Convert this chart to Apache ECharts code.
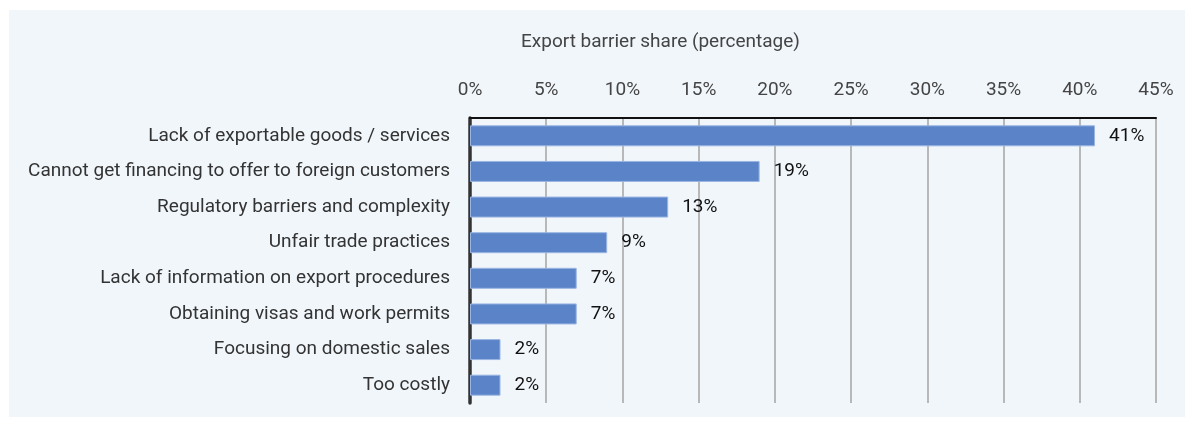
<!DOCTYPE html>
<html>
<head>
<meta charset="utf-8">
<script src="https://cdn.jsdelivr.net/npm/echarts@6/dist/echarts.min.js"></script>
<style>
  html, body { margin: 0; padding: 0; background: #ffffff; }
  #main { width: 1192px; height: 425px; }
</style>
</head>
<body>
<div id="main"></div>
<script>
// categories, top to bottom
var categories = [
  'Lack of exportable goods / services',
  'Cannot get financing to offer to foreign customers',
  'Regulatory barriers and complexity',
  'Unfair trade practices',
  'Lack of information on export procedures',
  'Obtaining visas and work permits',
  'Focusing on domestic sales',
  'Too costly'
];
var shares = [41, 19, 13, 9, 7, 7, 2, 2];

var myChart = echarts.init(document.getElementById('main'));

myChart.setOption({
  animation: false,
  graphic: [{
    type: 'rect',
    z: -10,
    silent: true,
    shape: { x: 9, y: 10, width: 1176, height: 407 },
    style: { fill: '#f1f6fb' }
  }],
  title: {
    text: 'Export barrier share (percentage)',
    left: 521,
    top: 33,
    padding: 0,
    textStyle: { fontFamily: 'Roboto', fontSize: 19, fontWeight: 'normal', color: '#444' }
  },
  grid: {
    left: 470,
    right: 36,
    top: 118,
    bottom: 22
  },
  xAxis: {
    type: 'value',
    position: 'top',
    min: 0,
    max: 45,
    interval: 5,
    axisLine: { show: true, lineStyle: { color: '#111', width: 2 } },
    axisTick: { show: false },
    axisLabel: {
      formatter: '{value}%',
      fontFamily: 'Roboto',
      fontSize: 19,
      color: '#444',
      margin: 18
    },
    splitLine: { show: true, lineStyle: { color: '#b8b8b8', width: 2 } }
  },
  yAxis: {
    type: 'category',
    inverse: true,
    data: categories,
    axisLine: { show: true, lineStyle: { color: '#333', width: 3.5 } },
    axisTick: { show: false },
    axisLabel: {
      fontFamily: 'Roboto',
      fontSize: 19,
      color: '#333',
      margin: 20
    }
  },
  series: [{
    type: 'bar',
    data: shares,
    barWidth: 21,
    itemStyle: {
      color: '#5b84c8',
      borderColor: '#9ab5e2',
      borderWidth: 1
    },
    label: {
      show: true,
      position: 'right',
      distance: 14,
      formatter: '{c}%',
      fontFamily: 'Roboto',
      fontSize: 19,
      color: '#111'
    }
  }]
});
</script>
</body>
</html>
